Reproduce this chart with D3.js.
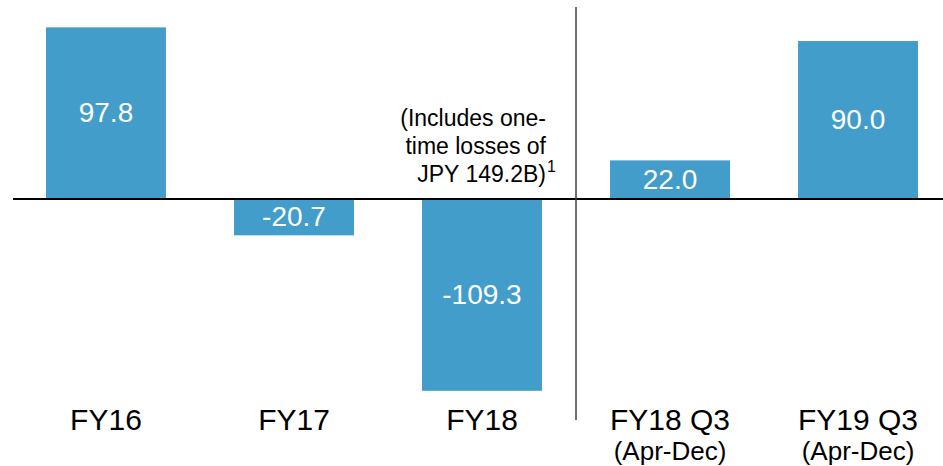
<!DOCTYPE html>
<html>
<head>
<meta charset="utf-8">
<script src="https://cdn.jsdelivr.net/npm/d3@7"></script>
<style>
  html, body { margin: 0; padding: 0; background: #fff; }
  svg { display: block; font-family: "Liberation Sans", Arial, sans-serif; }
</style>
</head>
<body>
<div id="chart"></div>
<script>
// data
const categories = ["FY16", "FY17", "FY18", "FY18 Q3", "FY19 Q3"];
const subLabels = ["", "", "", "(Apr-Dec)", "(Apr-Dec)"];
const values = [97.8, -20.7, -109.3, 22.0, 90.0];
const noteLines = ["(Includes one-", "time losses of", "JPY 149.2B)"];
const noteSup = "1";

const width = 943, height = 466;
const barColor = "#429dca";

const svg = d3.select("#chart").append("svg")
  .attr("width", width)
  .attr("height", height);

const x = d3.scaleBand()
  .domain(categories)
  .range([46, 918])
  .paddingInner(0.362)
  .paddingOuter(0);

const y = d3.scaleLinear()
  .domain([-110, 110])
  .range([392.05, 5.95]);

const data = categories.map((c, i) => ({ cat: c, sub: subLabels[i], value: values[i] }));

// bars
svg.selectAll("rect.bar")
  .data(data)
  .enter()
  .append("rect")
  .attr("class", "bar")
  .attr("x", d => x(d.cat))
  .attr("width", x.bandwidth())
  .attr("y", d => y(Math.max(0, d.value)))
  .attr("height", d => Math.abs(y(d.value) - y(0)))
  .attr("fill", barColor);

// value labels inside bars
svg.selectAll("text.val")
  .data(data)
  .enter()
  .append("text")
  .attr("class", "val")
  .attr("x", d => x(d.cat) + x.bandwidth() / 2)
  .attr("y", d => (y(d.value) + y(0)) / 2 + 9)
  .attr("text-anchor", "middle")
  .attr("font-size", 28)
  .attr("fill", "#fff")
  .text(d => d.value.toFixed(1));

// zero line
svg.append("line")
  .attr("x1", 13).attr("x2", width)
  .attr("y1", y(0)).attr("y2", y(0))
  .attr("stroke", "#000")
  .attr("stroke-width", 2);

// divider between full years and quarters
const divX = (x("FY18") + x.bandwidth() + x("FY18 Q3")) / 2;
svg.append("line")
  .attr("x1", divX).attr("x2", divX)
  .attr("y1", 7).attr("y2", 420)
  .attr("stroke", "#404040")
  .attr("stroke-width", 1.5);

// category labels
const cat = svg.selectAll("g.cat")
  .data(data)
  .enter()
  .append("g")
  .attr("class", "cat")
  .attr("transform", d => `translate(${x(d.cat) + x.bandwidth() / 2},0)`);

cat.append("text")
  .attr("y", 430)
  .attr("text-anchor", "middle")
  .attr("font-size", 30)
  .attr("fill", "#000")
  .text(d => d.cat);

cat.filter(d => d.sub)
  .append("text")
  .attr("y", 460)
  .attr("text-anchor", "middle")
  .attr("font-size", 26)
  .attr("fill", "#000")
  .text(d => d.sub);

// note above FY18
const noteX = 546;
const note = svg.append("text")
  .attr("text-anchor", "end")
  .attr("font-size", 23)
  .attr("fill", "#000");
noteLines.forEach((t, i) => {
  note.append("tspan")
    .attr("x", noteX)
    .attr("y", 126 + i * 28)
    .text(t);
});
svg.append("text")
  .attr("x", noteX + 1)
  .attr("y", 172)
  .attr("font-size", 16)
  .attr("fill", "#000")
  .text(noteSup);
</script>
</body>
</html>
